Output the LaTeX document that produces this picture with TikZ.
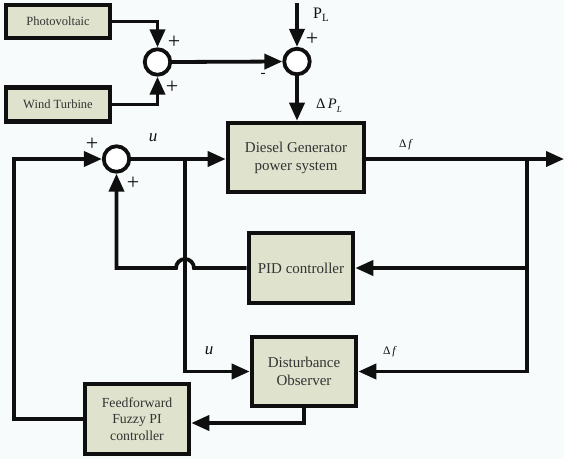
\documentclass[tikz,border=0pt]{standalone}
\usepackage{fontspec}
\setmainfont{Liberation Serif}
\usetikzlibrary{arrows.meta}
\definecolor{boxfill}{RGB}{223,226,204}
\definecolor{bg}{RGB}{248,251,252}
\definecolor{ink}{RGB}{15,15,15}
\tikzset{
  blk/.style={draw=ink, line width=4.6pt, fill=boxfill, align=center, inner sep=0pt, text=ink!85},
  sumc/.style={draw=ink, circle, line width=3.8pt, fill=white, minimum size=25.5pt, inner sep=0pt},
  wire/.style={draw=ink, line width=3.8pt},
  arr/.style={wire, -{Triangle[length=18pt,width=15pt]}},
  lbl/.style={inner sep=0pt, text=ink, font=\fontsize{13}{15}\selectfont},
  sgn/.style={inner sep=0pt, text=ink, font=\fontsize{22}{24}\selectfont}
}
\begin{document}
\begin{tikzpicture}[x=1pt,y=-1pt]
\fill[bg] (0,0) rectangle (564,459);
\useasboundingbox (0,0) rectangle (564,459);
% blocks
\node[blk, minimum width=104pt, minimum height=33pt, font=\fontsize{12.5}{14}\selectfont] (pv) at (58,21.5) {Photovoltaic};
\node[blk, minimum width=104pt, minimum height=34pt, font=\fontsize{12.5}{14}\selectfont] (wt) at (58,104.5) {Wind Turbine};
\node[blk, minimum width=136pt, minimum height=69pt, font=\fontsize{15}{18}\selectfont] (dg) at (296,157.5) {Diesel Generator\\power system};
\node[blk, minimum width=104pt, minimum height=70pt, font=\fontsize{15}{18}\selectfont] (pid) at (301,268) {PID controller};
\node[blk, minimum width=104pt, minimum height=69pt, font=\fontsize{15}{18}\selectfont] (do) at (304,371.5) {Disturbance\\Observer};
\node[blk, minimum width=104pt, minimum height=70pt, font=\fontsize{13.8}{16.5}\selectfont] (ff) at (137,419) {Feedforward\\Fuzzy PI\\controller};
% summing junctions
\node[sumc] (s1) at (157.5,62) {};
\node[sumc] (s2) at (297,61.5) {};
\node[sumc] (s3) at (116.5,159) {};
% helper coordinates
\coordinate (pin) at (297,3);
\coordinate (out) at (564,159);
\coordinate (b1) at (185,159);
\coordinate (b2) at (527,159);
\coordinate (fb) at (14,159);
\coordinate (k) at (304,423);
% connectors
\draw[arr] (pv.east) -| (s1.north);
\draw[arr] (wt.east) -| (s1.south);
\draw[arr] (s1.east) -- (s2.west);
\draw[arr] (pin) -- (s2.north);
\draw[arr] (s2.south) -- (s2.south |- dg.north);
\draw[arr] (s3.east) -- (s3.east -| dg.west);
\draw[arr] (dg.east |- out) -- (out);
\draw[arr] (b2) |- (pid.east);
\draw[arr] (b2) |- (do.east);
\draw[arr] (b1) |- (do.west);
\draw[arr] (pid.west) -- (194,268) arc[start angle=0, end angle=180, radius=9pt] -- (s3 |- pid.west) -- (s3.south);
\draw[arr] (do.south) -- (k) -- (k -| ff.east);
\draw[arr] (ff.west) -| (fb) -- (s3.west);
% labels
\node[sgn] (p1) at (174,42) {+};
\node[sgn] (p2) at (172,87) {+};
\node[sgn, font=\fontsize{15}{17}\selectfont] (m1) at (263,75) {-};
\node[sgn] (p3) at (312,39) {+};
\node[sgn] (p4) at (92,144) {+};
\node[sgn] (p5) at (133,183) {+};
\node[lbl, font=\fontsize{16}{18}\selectfont] (pl) at (321,15) {P\raisebox{-3pt}{\fontsize{11}{12}\selectfont L}};
\node[lbl, font=\fontsize{14.5}{16}\selectfont] (dpl) at (329,106) {Δ\,\textit{P}\raisebox{-4pt}{\fontsize{9}{10}\selectfont\textit{L}}};
\node[lbl, font=\fontsize{17}{19}\selectfont\itshape] (u1) at (153,138) {u};
\node[lbl, font=\fontsize{17}{19}\selectfont\itshape] (u2) at (209,351) {u};
\node[lbl, font=\fontsize{11.5}{13}\selectfont] (df1) at (406,145) {Δ\,\textit{f}};
\node[lbl, font=\fontsize{11.5}{13}\selectfont] (df2) at (390,352) {Δ\,\textit{f}};
\end{tikzpicture}
\end{document}
